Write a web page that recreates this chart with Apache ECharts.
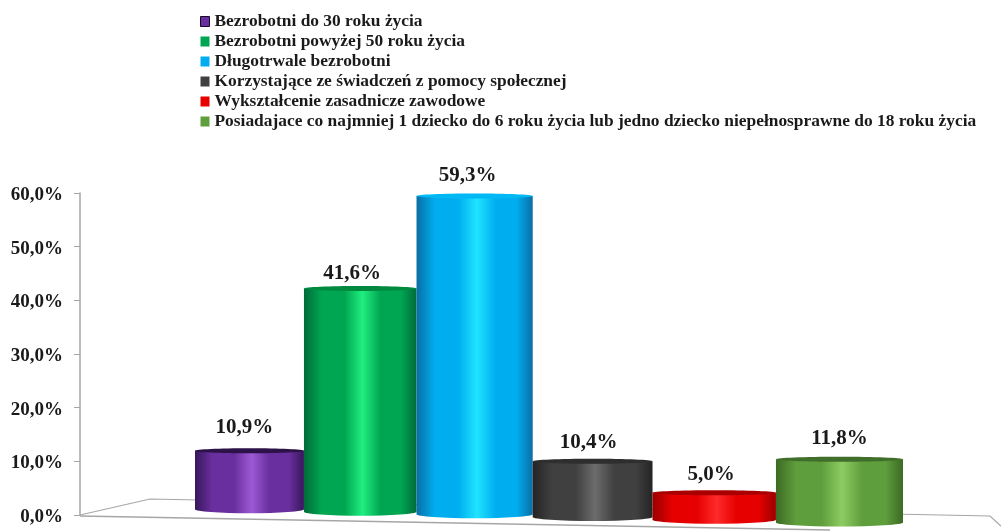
<!DOCTYPE html>
<html>
<head>
<meta charset="utf-8">
<style>
  html, body { margin: 0; padding: 0; background: #fff; }
  #chart { width: 1001px; height: 531px; }
</style>
<script src="https://cdn.jsdelivr.net/npm/echarts@6/dist/echarts.min.js"></script>
</head>
<body>
<div id="chart"></div>
<script>
const categories = [
  'Bezrobotni do 30 roku życia',
  'Bezrobotni powyżej 50 roku życia',
  'Długotrwale bezrobotni',
  'Korzystające ze świadczeń z pomocy społecznej',
  'Wykształcenie zasadnicze zawodowe',
  'Posiadajace co najmniej 1 dziecko do 6 roku życia lub jedno dziecko niepełnosprawne do 18 roku życia'
];
const values = [10.9, 41.6, 59.3, 10.4, 5.0, 11.8];
const yTicks = [0, 10, 20, 30, 40, 50, 60];

// edge, mid, highlight, top cap
const barColors = [
  ['#37175c', '#6a2f9e', '#9c5ad4', '#2c1248'],
  ['#006b3a', '#00a651', '#20ee80', '#00893f'],
  ['#0a6ea6', '#00aeef', '#20e4ff', '#00b8f4'],
  ['#242424', '#404040', '#6c6c6c', '#2e2e2e'],
  ['#9a0000', '#e60000', '#ff2a2a', '#a80000'],
  ['#3c6a24', '#5f9e3c', '#8ecb62', '#3f6f2a']
];
const labelShiftX = [-5, -8, -7, -4, -3, 0];
const labelShiftY = [-23, -15, -20, -19, -18, -21];

const FONT = '"Liberation Serif", "Times New Roman", serif';
const GRID_LEFT = 195;
const GRID_WIDTH = 708;
const PERSPECTIVE = 0.908;   // bars get wider towards the viewer
const FLOOR_SLOPE = 0.0225;  // floor runs downhill to the right
const FLOOR_START = -7;

function warpX(x) {
  const t = (x - GRID_LEFT) / GRID_WIDTH;
  return GRID_LEFT + GRID_WIDTH * t * (PERSPECTIVE + (1 - PERSPECTIVE) * t);
}

function renderCylinder(params, api) {
  const idx = api.value(0);
  const val = api.value(1);
  const c = api.coord([idx, val]);
  const zero = api.coord([idx, 0]);
  const band = api.size([1, 0])[0];
  const x0 = warpX(c[0] - band / 2);
  const x1 = warpX(c[0] + band / 2);
  const cx = (x0 + x1) / 2;
  const rx = (x1 - x0) / 2;
  const drop = FLOOR_START + (cx - GRID_LEFT) * FLOOR_SLOPE;
  const yTop = c[1] + drop;
  const yBase = zero[1] + drop;
  const col = barColors[idx];
  return {
    type: 'group',
    children: [
      {
        type: 'path',
        shape: {
          pathData: `M${x0} ${yTop}L${x0} ${yBase}A${rx} 4 0 0 0 ${x1} ${yBase}L${x1} ${yTop}Z`
        },
        style: {
          fill: new echarts.graphic.LinearGradient(0, 0, 1, 0, [
            { offset: 0, color: col[0] },
            { offset: 0.16, color: col[1] },
            { offset: 0.36, color: col[1] },
            { offset: 0.52, color: col[2] },
            { offset: 0.68, color: col[1] },
            { offset: 0.86, color: col[1] },
            { offset: 1, color: col[0] }
          ])
        }
      },
      {
        type: 'ellipse',
        shape: { cx: cx, cy: yTop, rx: rx, ry: 2.5 },
        style: { fill: col[3] }
      },
      {
        type: 'text',
        style: {
          x: cx + labelShiftX[idx],
          y: yTop + labelShiftY[idx],
          text: val.toFixed(1).replace('.', ',') + '%',
          align: 'center',
          verticalAlign: 'middle',
          font: 'bold 21px ' + FONT,
          fill: '#1a1a1a'
        }
      }
    ]
  };
}

const chart = echarts.init(document.getElementById('chart'), null, { renderer: 'canvas' });

chart.setOption({
  animation: false,
  backgroundColor: '#fff',
  legend: {
    left: 200,
    top: 13,
    padding: 0,
    orient: 'vertical',
    itemWidth: 9,
    itemHeight: 10,
    itemGap: 3,
    selectedMode: false,
    textStyle: { fontFamily: FONT, fontWeight: 'bold', fontSize: 17.4, color: '#1a1a1a', lineHeight: 17 },
    data: categories.map((name, i) => ({
      name,
      icon: 'rect',
      itemStyle: { color: barColors[i][1], borderColor: i === 0 ? '#1a0a2a' : barColors[i][1], borderWidth: i === 0 ? 1 : 0 }
    }))
  },
  grid: { left: GRID_LEFT, width: GRID_WIDTH, top: 193, bottom: 16, containLabel: false },
  xAxis: {
    type: 'category',
    data: categories,
    axisLine: { show: false },
    axisTick: { show: false },
    axisLabel: { show: false }
  },
  yAxis: {
    type: 'value',
    min: yTicks[0],
    max: yTicks[yTicks.length - 1],
    interval: 10,
    offset: GRID_LEFT - 80,
    splitLine: { show: false },
    axisLine: { show: true, lineStyle: { color: '#a6a6a6', width: 1.5 } },
    axisTick: { show: true, length: 6, lineStyle: { color: '#a6a6a6', width: 1 } },
    axisLabel: {
      margin: 17,
      verticalAlign: 'top',
      lineHeight: 4,   // sits the labels about 2px under their ticks
      color: '#1a1a1a',
      fontFamily: FONT,
      fontWeight: 'bold',
      fontSize: 19,
      formatter: v => v.toFixed(1).replace('.', ',') + '%'
    }
  },
  graphic: [
    {
      type: 'polyline',
      silent: true,
      z: 0,
      shape: { points: [[80, 515], [150, 499], [990, 516], [1001, 526]] },
      style: { stroke: '#a6a6a6', lineWidth: 1.2, fill: null }
    },
    {
      type: 'line',
      silent: true,
      z: 0,
      shape: { x1: 80, y1: 516, x2: 830, y2: 530 },
      style: { stroke: '#a6a6a6', lineWidth: 1.5 }
    }
  ],
  series: categories.map((name, i) => ({
    name,
    type: 'custom',
    clip: false,
    renderItem: renderCylinder,
    encode: { x: 0, y: 1 },
    data: [[i, values[i]]],
    itemStyle: { color: barColors[i][1] }
  }))
});
</script>
</body>
</html>
